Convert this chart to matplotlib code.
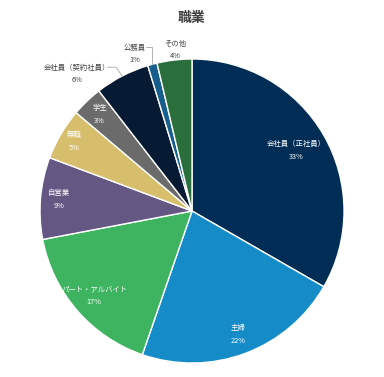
import numpy as np
import matplotlib
matplotlib.use("Agg")
import matplotlib.pyplot as plt

plt.rcParams['font.family'] = ['Noto Sans CJK JP', 'DejaVu Sans']

title = "職業"
categories = ["会社員（正社員）", "主婦", "パート・アルバイト", "自営業", "無職", "学生",
              "会社員（契約社員）", "公務員", "その他"]
values = [33.3, 22.0, 16.7, 8.7, 5.5, 3.3, 5.8, 1.0, 3.7]
pct_labels = ["33%", "22%", "17%", "9%", "5%", "3%", "6%", "1%", "4%"]
colors = ["#002D55", "#158BC7", "#3FB460", "#645783", "#D7BE6C", "#6B6B6B",
          "#061A33", "#175E8C", "#2A6F3B"]

# label style: inside radial distance, or None for outside labels
inside_dist = [0.79, 0.87, 0.85, 0.88, 0.90, 0.88, None, None, None]
outside_pos = {6: (-0.757, 0.901), 7: (-0.375, 1.033), 8: (-0.112, 1.059)}
leader = {6: True, 7: True, 8: False}

fig = plt.figure(figsize=(3.84, 3.77), dpi=100)
ax = fig.add_axes([0.1042, 0.0371, 0.7917, 0.8064])
wedges, _ = ax.pie(values, colors=colors, startangle=90, counterclock=False,
                   radius=1.0, wedgeprops=dict(edgecolor="white", linewidth=1.0))
ax.set_xlim(-1, 1)
ax.set_ylim(-1, 1)
ax.set_aspect("equal")
ax.axis("off")

fs = 5.3
for i, w in enumerate(wedges):
    mid = np.deg2rad((w.theta1 + w.theta2) / 2)
    if inside_dist[i] is not None:
        d = inside_dist[i]
        x, y = d * np.cos(mid), d * np.sin(mid)
        ax.text(x, y, categories[i] + "\n" + pct_labels[i], ha="center", va="center",
                color="white", fontsize=fs, linespacing=1.8)
    else:
        tx, ty = outside_pos[i]
        ax.text(tx, ty, categories[i] + "\n" + pct_labels[i], ha="center", va="center",
                color="#404040", fontsize=fs, linespacing=1.8, clip_on=False)
        if leader[i]:
            ex, ey = np.cos(mid), np.sin(mid)
            tw = len(categories[i]) * 0.043 / 2
            sx, sy = tx + tw + 0.01, ty + 0.045
            ax.plot([sx, ex + (0.0 if i == 7 else -0.04), ex], [sy, sy, ey],
                    color="#A6A6A6", lw=0.6, clip_on=False)

fig.text(0.5, 1 - 18 / 377, title, ha="center", va="center", fontsize=10,
         fontweight="bold", color="#404040")

fig.savefig("out.png", dpi=100)
